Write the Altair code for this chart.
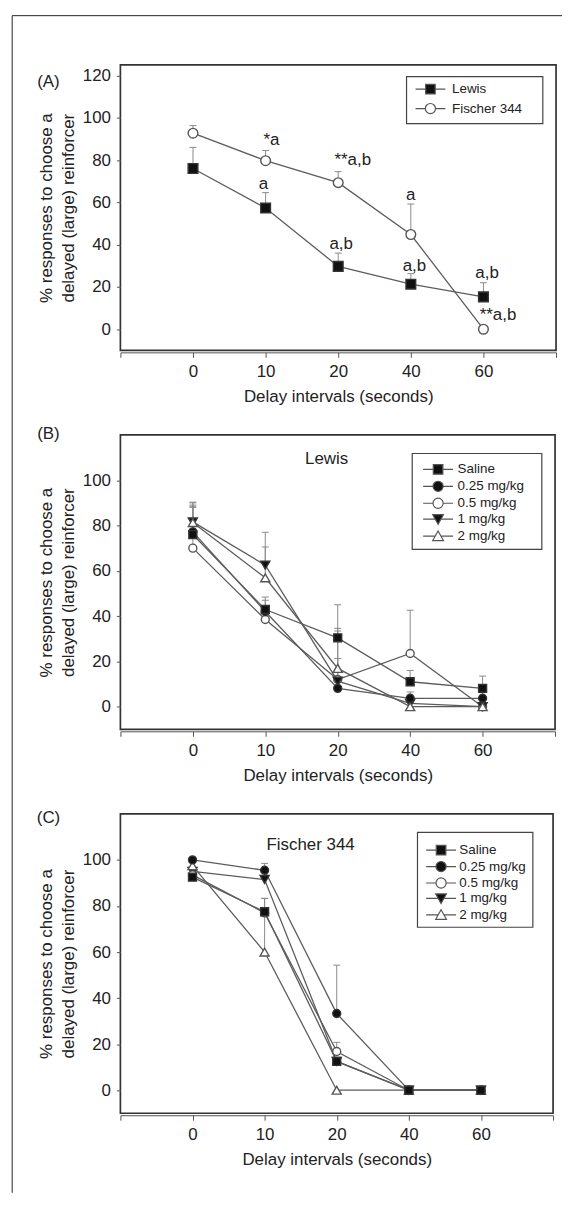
import altair as alt
import pandas as pd

FONT = "Liberation Sans"
INK = "#222222"
LINE = "#5c5c5c"
ERR = "#8a8a8a"
MSTROKE = "#555555"

# ---------------- data ----------------
DELAYS = ["0", "10", "20", "40", "60"]

A_SERIES = ["Lewis", "Fischer 344"]
A_LEWIS = [76.0, 57.3, 29.7, 21.3, 15.3]
A_LEWIS_SEM = [10.0, 7.3, 6.3, 5.0, 6.7]
A_FISCHER = [92.7, 79.7, 69.3, 44.8, 0.0]
A_FISCHER_SEM = [3.6, 4.8, 5.2, 14.4, 0.0]
A_NOTES = ["*a", "a", "**a,b", "a", "a,b", "a,b", "a,b", "**a,b"]
A_NOTE_X = [1.08, 0.97, 2.2, 3.0, 2.04, 3.05, 4.05, 4.2]
A_NOTE_Y = [89.3, 68.9, 79.9, 63.4, 40.3, 30.0, 26.7, 6.8]

DOSES = ["Saline", "0.25 mg/kg", "0.5 mg/kg", "1 mg/kg", "2 mg/kg"]

B_SALINE = [76.0, 42.9, 30.4, 11.0, 8.1]
B_SALINE_SEM = [12.0, 5.5, 14.6, 5.0, 5.4]
B_D025 = [77.2, 42.0, 8.1, 3.7, 3.7]
B_D025_SEM = [12.8, 5.0, 0.0, 2.8, 4.3]
B_D05 = [70.0, 38.5, 12.0, 23.5, 0.0]
B_D05_SEM = [19.0, 0.0, 21.4, 19.1, 0.0]
B_D1 = [81.6, 62.5, 11.3, 1.5, 0.0]
B_D1_SEM = [8.7, 14.5, 23.3, 0.0, 0.0]
B_D2 = [81.3, 56.9, 16.9, 0.0, 0.0]
B_D2_SEM = [7.2, 13.6, 4.4, 0.0, 0.0]

C_SALINE = [92.5, 77.5, 12.5, 0.0, 0.0]
C_SALINE_SEM = [1.5, 5.8, 1.5, 0.0, 0.0]
C_D025 = [100.0, 95.5, 33.3, 0.0, 0.0]
C_D025_SEM = [0.0, 3.0, 21.0, 0.0, 0.0]
C_D05 = [93.5, 77.0, 16.8, 0.0, 0.0]
C_D05_SEM = [0.0, 0.0, 4.0, 0.0, 0.0]
C_D1 = [95.0, 91.5, 12.5, 0.0, 0.0]
C_D1_SEM = [0.0, 0.0, 0.0, 0.0, 0.0]
C_D2 = [97.5, 60.0, 0.0, 0.0, 0.0]
C_D2_SEM = [0.0, 23.3, 0.0, 0.0, 0.0]

Y_TITLE = ["% responses to choose a", "delayed (large) reinforcer"]
X_TITLE = "Delay intervals (seconds)"

# legend glyphs: short line with the marker in the middle
PATHS = {
    "square": "M-2.5,0H-0.8M0.8,0H2.5M-0.8,-0.8H0.8V0.8H-0.8Z",
    "circle": "M-2.5,0H-0.85M0.85,0H2.5M-0.85,0A0.85,0.85 0 1,0 0.85,0A0.85,0.85 0 1,0 -0.85,0Z",
    "triangle-down": "M-2.5,0H-0.5M0.5,0H2.5M-0.9,-0.75H0.9L0,0.85Z",
    "triangle-up": "M-2.5,0H-0.5M0.5,0H2.5M0,-0.85L0.9,0.75H-0.9Z",
}
A_STYLE = {"Lewis": ("square", "#111111"), "Fischer 344": ("circle", "white")}
DOSE_STYLE = {
    "Saline": ("square", "#111111"),
    "0.25 mg/kg": ("circle", "#111111"),
    "0.5 mg/kg": ("circle", "white"),
    "1 mg/kg": ("triangle-down", "#111111"),
    "2 mg/kg": ("triangle-up", "white"),
}


def long_df(names, values, sems):
    rows = []
    for s, vals, se in zip(names, values, sems):
        for i, (v, e) in enumerate(zip(vals, se)):
            rows.append({"series": s, "idx": i, "value": v, "upper": v + e, "sem": e})
    return pd.DataFrame(rows)


LABEL_EXPR = "datum.value >= 0 && datum.value <= 4 ? " + str(DELAYS) + "[datum.value] : ''"


def x_enc(field="idx"):
    return alt.X(
        f"{field}:Q",
        scale=alt.Scale(domain=[-1, 5], nice=False, zero=False),
        axis=alt.Axis(
            values=[-1, 0, 1, 2, 3, 4, 5], labelExpr=LABEL_EXPR, title=X_TITLE,
            grid=False, domain=True, domainColor=MSTROKE, offset=2,
            tickSize=5, tickColor=MSTROKE, labelFontSize=17, labelPadding=6.5,
            labelColor=INK, labelOverlap=False, labelFlush=False,
            titleFontSize=17, titleFontWeight="normal", titlePadding=9, titleColor=INK,
        ),
    )


def y_enc(ydom, yticks, field="value"):
    return alt.Y(
        f"{field}:Q",
        scale=alt.Scale(domain=ydom, nice=False, zero=False),
        axis=alt.Axis(
            values=yticks, title=Y_TITLE, grid=False, domain=False,
            tickSize=4, tickColor=MSTROKE, labelFontSize=17, labelPadding=6,
            labelColor=INK, titleFontSize=17, titleFontWeight="normal",
            titlePadding=5, titleLineHeight=21.7, titleColor=INK,
        ),
    )


def panel(df, names, styles, order, width, height, ydom, yticks, msize, leg, box,
          tag, tag_xy, title=None, title_xy=None, extra=None):
    X = x_enc()
    Y = y_enc(ydom, yticks)
    layers = []
    layers.append(
        alt.Chart(df).mark_line(color=LINE, strokeWidth=1.3).encode(x=X, y=Y, detail="series:N")
    )
    err = df[df["sem"] > 0]
    layers.append(
        alt.Chart(err).mark_rule(color=ERR, strokeWidth=1).encode(x=X, y=Y, y2="upper:Q")
    )
    layers.append(
        alt.Chart(err).mark_tick(orient="horizontal", size=7, thickness=1, color=ERR, opacity=1)
        .encode(x=X, y=y_enc(ydom, yticks, "upper"))
    )
    for s in order:
        shape, fill = styles[s]
        sz = msize * (1.3 if shape.startswith("triangle") else 1.0)
        layers.append(
            alt.Chart(df[df["series"] == s]).mark_point(
                shape=shape, filled=True, fill=fill, stroke=MSTROKE if fill == "white" else "#333333",
                strokeWidth=1.4, size=sz, opacity=1,
            ).encode(x=X, y=Y)
        )
    L = alt.Legend(
        orient="none", legendX=leg["x"], legendY=leg["y"], title=None,
        symbolSize=144, symbolOffset=9, labelOffset=leg["lo"], rowPadding=leg["rp"],
        padding=0, labelFontSize=13.5, labelFont=FONT, labelColor=INK,
        symbolStrokeWidth=1.2,
    )
    n = len(names)
    layers.append(
        alt.Chart(df).transform_filter("false").mark_point(filled=True, opacity=1, strokeWidth=1.2)
        .encode(
            x=X, y=Y,
            shape=alt.Shape("series:N", scale=alt.Scale(domain=names, range=[PATHS[styles[s][0]] for s in names]), legend=L),
            fill=alt.Fill("series:N", scale=alt.Scale(domain=names, range=[styles[s][1] for s in names]), legend=L),
            stroke=alt.Stroke("series:N", scale=alt.Scale(domain=names, range=[MSTROKE] * n), legend=L),
        )
    )
    one = alt.Data(values=[{}])
    layers.append(
        alt.Chart(one).mark_rect(fillOpacity=0, stroke="#444444", strokeWidth=1.2)
        .encode(x=alt.value(box[0]), x2=alt.value(box[1]), y=alt.value(box[2]), y2=alt.value(box[3]))
    )
    layers.append(
        alt.Chart(one).mark_text(text=tag, fontSize=17, color=INK, align="center", baseline="middle")
        .encode(x=alt.value(tag_xy[0]), y=alt.value(tag_xy[1]))
    )
    if title:
        layers.append(
            alt.Chart(one).mark_text(text=title, fontSize=17, color=INK, align="center", baseline="middle")
            .encode(x=alt.value(title_xy[0]), y=alt.value(title_xy[1]))
        )
    if extra:
        layers.extend(extra)
    return alt.layer(*layers).properties(width=width, height=height)


# ---------------- panel A ----------------
dfa = long_df(A_SERIES, [A_LEWIS, A_FISCHER], [A_LEWIS_SEM, A_FISCHER_SEM])
notes = pd.DataFrame({"label": A_NOTES, "nx": A_NOTE_X, "ny": A_NOTE_Y})
one = alt.Data(values=[{}])
extra_a = [
    alt.Chart(notes).mark_text(fontSize=17, color=INK, align="center", baseline="middle")
    .encode(x=x_enc("nx"), y=y_enc([-10, 125], [0, 20, 40, 60, 80, 100, 120], "ny"), text="label:N"),
    alt.Chart(one).mark_rule(color="#222222", strokeWidth=1)
    .encode(x=alt.value(-108.8), y=alt.value(-49.5), y2=alt.value(1134)),
    alt.Chart(one).mark_rule(color="#222222", strokeWidth=1)
    .encode(x=alt.value(-108.8), x2=alt.value(444), y=alt.value(-49.5)),
]
pa = panel(
    dfa, A_SERIES, A_STYLE, ["Lewis", "Fischer 344"], 438, 287, [-10, 125],
    [0, 20, 40, 60, 80, 100, 120], 95,
    {"x": 295.7, "y": 17.4, "lo": 14.7, "rp": 3.5},
    (287.7, 424.7, 11.7, 59), "(A)", (-72.3, 17), extra=extra_a,
)

# ---------------- panel B ----------------
dfb = long_df(DOSES, [B_SALINE, B_D025, B_D05, B_D1, B_D2],
              [B_SALINE_SEM, B_D025_SEM, B_D05_SEM, B_D1_SEM, B_D2_SEM])
pb = panel(
    dfb, DOSES, DOSE_STYLE, ["0.5 mg/kg", "1 mg/kg", "2 mg/kg", "0.25 mg/kg", "Saline"],
    437, 296, [-10, 120], [0, 20, 40, 60, 80, 100], 64,
    {"x": 303.4, "y": 27.7, "lo": 12.6, "rp": 1.0},
    (293.4, 423.7, 18.7, 115), "(B)", (-72.3, -1.3), title="Lewis", title_xy=(207.4, 24),
)

# ---------------- panel C ----------------
dfc = long_df(DOSES, [C_SALINE, C_D025, C_D05, C_D1, C_D2],
              [C_SALINE_SEM, C_D025_SEM, C_D05_SEM, C_D1_SEM, C_D2_SEM])
pc = panel(
    dfc, DOSES, DOSE_STYLE, ["1 mg/kg", "0.5 mg/kg", "2 mg/kg", "0.25 mg/kg", "Saline"],
    435, 301, [-10, 120], [0, 20, 40, 60, 80, 100], 64,
    {"x": 306.4, "y": 29.5, "lo": 11.3, "rp": 0.5},
    (298.7, 414.7, 18.7, 114), "(C)", (-72.3, 4.3), title="Fischer 344", title_xy=(191.2, 31),
)

chart = (
    alt.vconcat(pa, pb, pc, spacing=85, bounds="flush")
    .resolve_scale(x="independent", y="independent", shape="independent",
                   fill="independent", stroke="independent")
    .properties(padding={"left": 2, "top": 3, "right": 0, "bottom": 0})
    .configure(font=FONT)
    .configure_view(stroke="#333333", strokeWidth=1.7)
)

chart.save("out.html", embed_options={"renderer": "svg", "actions": False})
